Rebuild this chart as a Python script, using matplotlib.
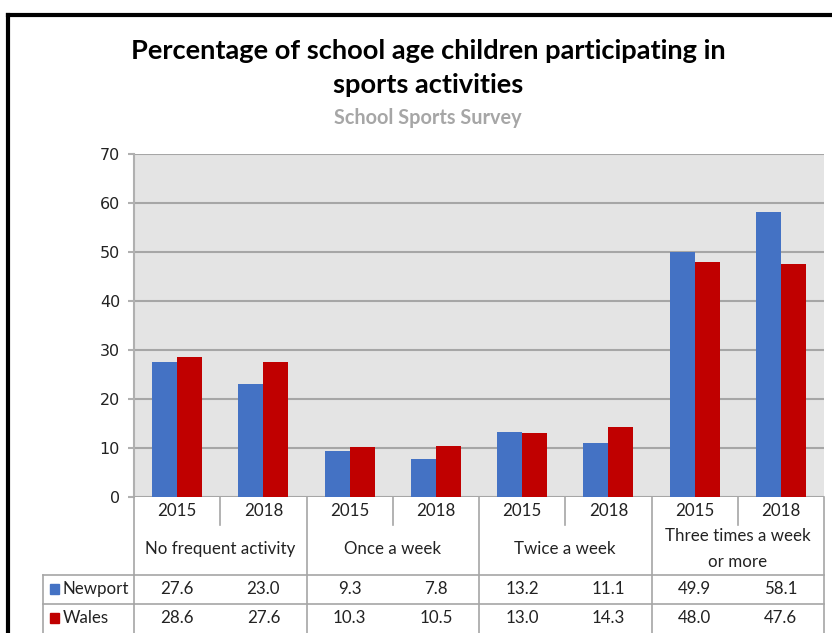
import matplotlib
matplotlib.use('Agg')
import matplotlib.pyplot as plt
from matplotlib.lines import Line2D
from matplotlib.patches import Rectangle
import matplotlib.transforms as mtransforms

# data
categories = ['No frequent activity', 'Once a week', 'Twice a week', 'Three times a week\nor more']
years = ['2015', '2018']
newport = [27.6, 23.0, 9.3, 7.8, 13.2, 11.1, 49.9, 58.1]
wales = [28.6, 27.6, 10.3, 10.5, 13.0, 14.3, 48.0, 47.6]
series_names = ['Newport', 'Wales']
colors = ['#4472C4', '#C00000']

W, H = 832, 633
fig = plt.figure(figsize=(W / 100, H / 100), dpi=100)

def fy(py):  # pixel from top -> figure fraction
    return 1 - py / H

def fx(px):
    return px / W

ax = fig.add_axes([fx(134), fy(497), fx(824) - fx(134), fy(154) - fy(497)])
ax.set_facecolor('#E4E4E4')

n = len(newport)
centers = [i + 0.5 for i in range(n)]
bw = 0.29
ax.bar([c - bw / 2 for c in centers], newport, width=bw, color=colors[0], zorder=3)
ax.bar([c + bw / 2 for c in centers], wales, width=bw, color=colors[1], zorder=3)

ax.set_xlim(0, n)
ax.set_ylim(0, 70)
ax.set_yticks(range(0, 71, 10))
ax.yaxis.grid(True, color='#A6A6A6', linewidth=1.5, zorder=1)
ax.set_xticks([])
for s in ['top', 'right', 'bottom']:
    ax.spines[s].set_visible(False)
ax.spines['left'].set_color('#B0B0B0')
ax.spines['left'].set_linewidth(1.5)
ax.tick_params(axis='y', length=4, color='#B0B0B0', width=1.5, labelsize=11.5,
               labelcolor='#222222', pad=6)

# data table below the axis
tbl_font = 'Lato'
fs = 12.2
line_c = '#A6A6A6'
tr = mtransforms.blended_transform_factory(ax.transData, fig.transFigure)
row_year, row_cat, row_np, row_wa, row_end = 497, 575, 604, 633, 640

def hline(x0, x1, py, transform=tr):
    fig.add_artist(Line2D([x0, x1], [fy(py), fy(py)], transform=transform,
                          color=line_c, linewidth=1.2))

def vline(x, py0, py1, transform=tr):
    fig.add_artist(Line2D([x, x], [fy(py0), fy(py1)], transform=transform,
                          color=line_c, linewidth=1.2))

# group dividers (full height), year dividers (year row only)
for g in range(len(categories) + 1):
    vline(g * 2, row_year, row_end)
for g in range(len(categories)):
    vline(g * 2 + 1, row_year, 525)
hline(0, n, row_cat)
hline(0, n, row_np)
fig.add_artist(Line2D([fx(43), fx(134)], [fy(row_cat), fy(row_cat)], color=line_c, linewidth=1.2))
fig.add_artist(Line2D([fx(43), fx(134)], [fy(row_np), fy(row_np)], color=line_c, linewidth=1.2))
fig.add_artist(Line2D([fx(43), fx(43)], [fy(row_cat), fy(row_end)], color=line_c, linewidth=1.2))

for i in range(n):
    fig.text(centers[i], fy(511), years[i % 2], transform=tr, ha='center', va='center',
             fontsize=fs, family=tbl_font, color='#222222')
    fig.text(centers[i], fy(589), f'{newport[i]:.1f}', transform=tr, ha='center', va='center',
             fontsize=fs, family=tbl_font, color='#222222')
    fig.text(centers[i], fy(618), f'{wales[i]:.1f}', transform=tr, ha='center', va='center',
             fontsize=fs, family=tbl_font, color='#222222')
for g, cat in enumerate(categories):
    fig.text(g * 2 + 1, fy(549), cat, transform=tr, ha='center', va='center',
             fontsize=fs, family=tbl_font, color='#222222', linespacing=1.75)

# legend keys in table
for name, col, py in zip(series_names, colors, [589, 618]):
    fig.add_artist(Rectangle((fx(50), fy(py + 5)), fx(9), fy(py - 5) - fy(py + 5),
                             transform=fig.transFigure, color=col))
    fig.text(fx(63), fy(py), name, ha='left', va='center', fontsize=fs,
             family=tbl_font, color='#222222')

# titles
fig.text(fx(428), fy(68), 'Percentage of school age children participating in\nsports activities',
         ha='center', va='center', fontsize=19.6, fontweight='bold', family='Lato',
         color='black', linespacing=1.5)
fig.text(fx(428), fy(118), 'School Sports Survey', ha='center', va='center',
         fontsize=14.3, fontweight='bold', family='Lato', color='#A6A6A6')

# chart frame
fig.add_artist(Line2D([fx(8), fx(8)], [fy(15), 0], color='black', linewidth=3))
fig.add_artist(Line2D([fx(8), 1], [fy(15), fy(15)], color='black', linewidth=3))

fig.savefig('out.png', dpi=100)
